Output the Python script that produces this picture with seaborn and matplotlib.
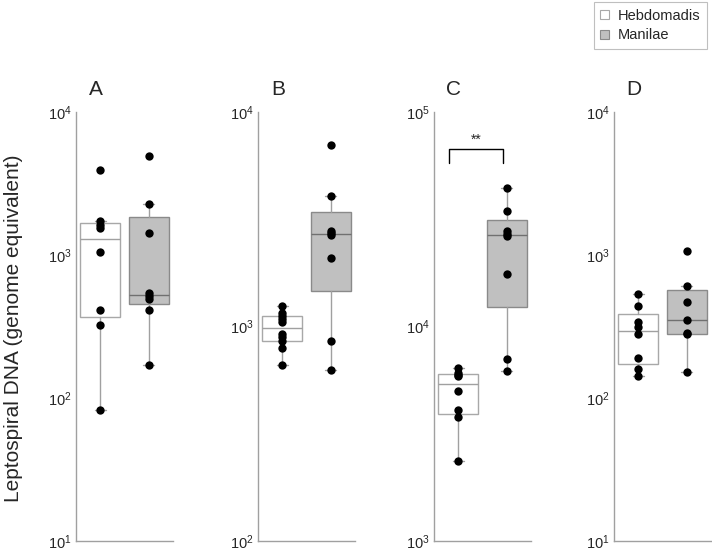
import numpy as np
import pandas as pd
import matplotlib
matplotlib.use('Agg')
import matplotlib.pyplot as plt
from matplotlib.patches import Patch
from matplotlib.ticker import NullLocator
import seaborn as sns

# values (genome equivalents)
panels = ['A', 'B', 'C', 'D']
groups = ['Hebdomadis', 'Manilae']

a_hebdomadis = [3900, 1720, 1630, 1540, 1050, 414, 326, 83]
a_manilae = [4920, 2290, 1416, 541, 516, 495, 412, 170]
b_hebdomadis = [1241, 1150, 1115, 1085, 1050, 925, 890, 855, 794, 660]
b_manilae = [7000, 4050, 2790, 2735, 2680, 2085, 852, 628]
c_hebdomadis = [6410, 6050, 5950, 5850, 4995, 4060, 3800, 2350]
c_manilae = [44060, 34600, 27900, 26950, 26330, 17530, 7060, 6210]
d_hebdomadis = [535, 437, 340, 312, 281, 189, 159, 142]
d_manilae = [1060, 607, 472, 349, 286, 280, 153]

# y-axis decades per panel
decades = {'A': (1, 4), 'B': (2, 4), 'C': (3, 5), 'D': (1, 4)}

values = {
    'A': [a_hebdomadis, a_manilae],
    'B': [b_hebdomadis, b_manilae],
    'C': [c_hebdomadis, c_manilae],
    'D': [d_hebdomadis, d_manilae],
}

rows = []
for p in panels:
    for g, vals in zip(groups, values[p]):
        for v in vals:
            rows.append({'panel': p, 'group': g, 'value': v})
df = pd.DataFrame(rows)

fill = {'Hebdomadis': 'white', 'Manilae': '#c0c0c0'}
edge = {'Hebdomadis': '#a8a8a8', 'Manilae': '#8a8a8a'}
median_col = {'Hebdomadis': '#a0a0a0', 'Manilae': '#707070'}


def box_stats(vals):
    """Quartiles as in MATLAB's prctile (hazen), whiskers at 1.5 IQR."""
    v = np.sort(np.asarray(vals, dtype=float))
    q1, med, q3 = np.percentile(v, [25, 50, 75], method='hazen')
    iqr = q3 - q1
    lo = v[v >= q1 - 1.5 * iqr].min()
    hi = v[v <= q3 + 1.5 * iqr].max()
    return dict(med=med, q1=q1, q3=q3, whislo=lo, whishi=hi, fliers=[])


sns.set_theme(style='white')
plt.rcParams['font.family'] = ['Liberation Sans', 'DejaVu Sans']
plt.rcParams['mathtext.default'] = 'regular'

W, H = 712, 551
fig = plt.figure(figsize=(W / 100, H / 100), dpi=100)

lefts = [76, 258, 434, 614]
ax_w, ax_top, ax_bot = 97, 112, 541

for p, left in zip(panels, lefts):
    ax = fig.add_axes([left / W, 1 - ax_bot / H, ax_w / W, (ax_bot - ax_top) / H])
    sub = df[df['panel'] == p]
    sns.stripplot(data=sub, x='group', y='value', order=groups, color='black',
                  jitter=False, size=6, log_scale=True, ax=ax, zorder=3)
    for i, g in enumerate(groups):
        st = box_stats(sub.loc[sub['group'] == g, 'value'])
        ax.bxp([st], positions=[i], widths=0.83, capwidths=0.22,
               patch_artist=True, showfliers=False, manage_ticks=False,
               boxprops=dict(facecolor=fill[g], edgecolor=edge[g], linewidth=1),
               medianprops=dict(color=median_col[g], linewidth=1),
               whiskerprops=dict(color='#a0a0a0', linewidth=1),
               capprops=dict(color='#a0a0a0', linewidth=1))
    lo, hi = decades[p]
    ax.set_ylim(10 ** lo, 10 ** hi)
    ax.set_yticks([10 ** k for k in range(lo, hi + 1)])
    ax.yaxis.set_minor_locator(NullLocator())
    ax.set_xlim(-0.5, 1.5)
    ax.set_xticks([])
    ax.set_xlabel('')
    ax.set_ylabel('')
    ax.tick_params(axis='y', length=0, pad=3, labelsize=10.5)
    for s in ['top', 'right']:
        ax.spines[s].set_visible(False)
    for s in ['left', 'bottom']:
        ax.spines[s].set_color('#a0a0a0')
        ax.spines[s].set_linewidth(1)
    ax.grid(False)
    fig.text((left + 20) / W, 1 - 89 / H, p, fontsize=15, ha='center', va='center')

    if p == 'C':
        # significance bracket between the two groups
        top = max(c_manilae) * 1.53
        foot = top / 1.16
        ax.plot([-0.2, -0.2, 0.92, 0.92], [foot, top, top, foot], color='black', lw=1)
        ax.text(0.36, top * 1.02, '**', ha='center', va='bottom', fontsize=10)

fig.text(14 / W, 1 - 328 / H, 'Leptospiral DNA (genome equivalent)', rotation=90,
         fontsize=15, ha='center', va='center')

handles = [Patch(facecolor=fill[g], edgecolor=edge[g], linewidth=0.8) for g in groups]
leg = fig.legend(handles, groups, loc='upper right', bbox_to_anchor=(707 / W, 1 - 2 / H),
                 frameon=True, fancybox=False, fontsize=10.5, handlelength=0.6,
                 handleheight=0.6, handletextpad=0.6, borderpad=0.45, labelspacing=0.4,
                 borderaxespad=0)
leg.get_frame().set_edgecolor('#b0b0b0')
leg.get_frame().set_linewidth(0.8)

fig.savefig('out.png', dpi=100)
